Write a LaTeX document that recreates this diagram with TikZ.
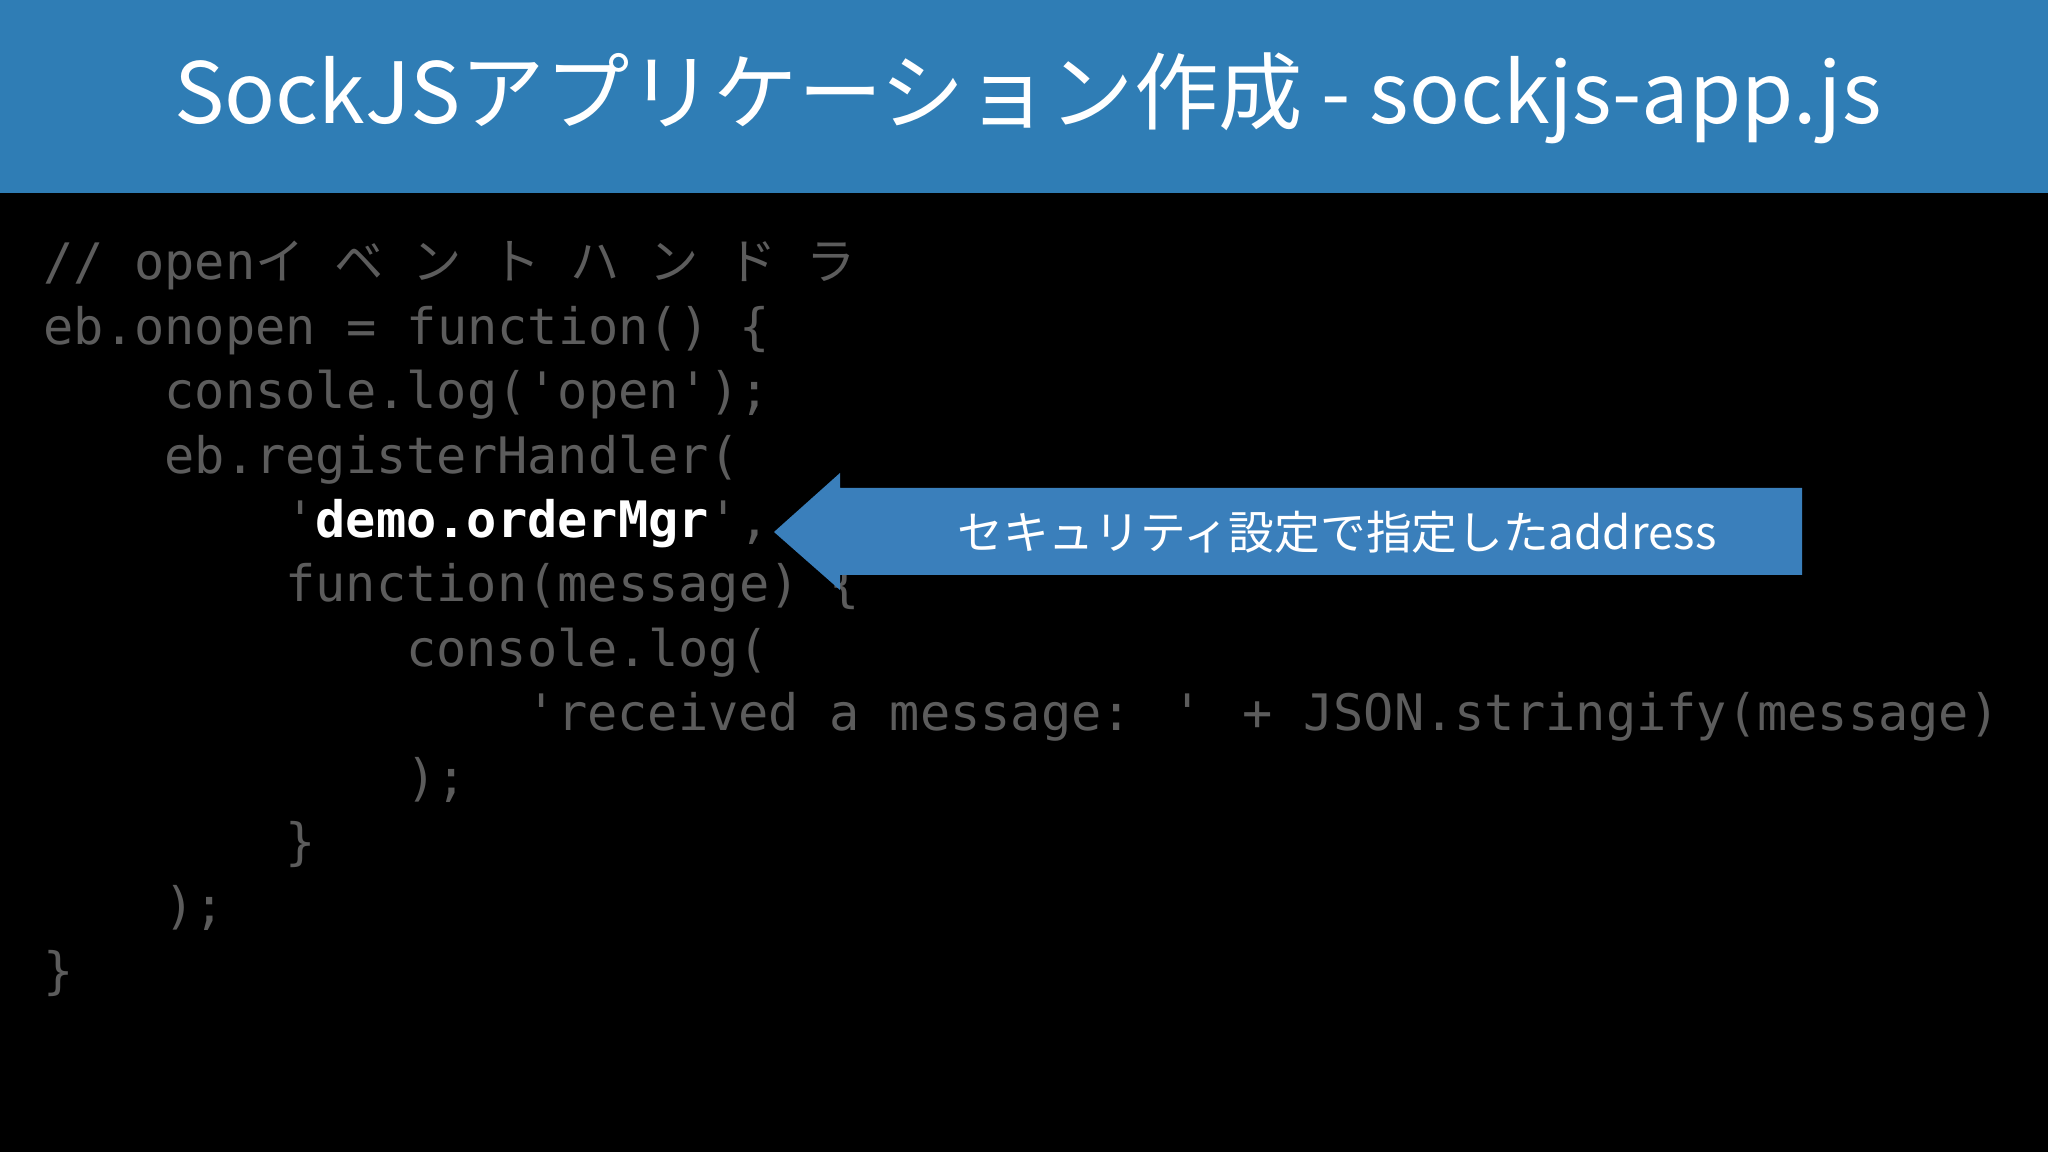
\documentclass[tikz,border=0pt]{standalone}
\usepackage{fontspec}
\newfontfamily\codefont{DejaVu Sans Mono}
\newfontfamily\jp{Noto Sans CJK JP}
\newfontfamily\jpspaced[LetterSpace=60]{Noto Sans CJK JP}
\definecolor{hdr}{HTML}{2F7DB5}
\definecolor{arr}{HTML}{3A7FBB}
\definecolor{codegray}{HTML}{5C5C5C}
\begin{document}
\begin{tikzpicture}[x=1cm,y=1cm,
  code/.style={anchor=base west,inner sep=0pt,text=codegray,font=\codefont\fontsize{14.3pt}{16pt}\selectfont}]
\useasboundingbox (0,0) rectangle (20.48,11.52);
\fill[black] (0,0) rectangle (20.48,11.52);
\fill[hdr] (0,9.59) rectangle (20.48,11.52);
\node[text=white,font=\jp\fontsize{24pt}{28pt}\selectfont] (title) at (10.28,10.54) {SockJSアプリケーション作成 - sockjs-app.js};
\def\dx{0.302}
\def\x0{0.43}
\node[code] (l1) at (0.43,8.72) {// open{\jpspaced\fontsize{14pt}{16pt}\selectfont イベントハンドラ}};
\node[code] (l2) at (0.43,8.076) {eb.onopen = function() \{};
\node[code] (l3) at (0.43+4*\dx,7.432) {console.log('open');};
\node[code] (l4) at (0.43+4*\dx,6.788) {eb.registerHandler(};
\node[code] (l5) at (0.43+8*\dx,6.144) {'\textcolor{white}{\bfseries demo.orderMgr}',};
\node[code] (l6) at (0.43+8*\dx,5.50) {function(message) \{};
\node[code] (l7) at (0.43+12*\dx,4.856) {console.log(};
\node[code] (l8) at (0.43+16*\dx,4.212) {'received a message: ' + JSON.stringify(message)};
\node[code] (l9) at (0.43+12*\dx,3.568) {);};
\node[code] (l10) at (0.43+8*\dx,2.924) {\}};
\node[code] (l11) at (0.43+4*\dx,2.28) {);};
\node[code] (l12) at (0.43,1.636) {\}};
\fill[arr] (7.74,6.20) -- (8.40,6.79) -- (8.40,6.64) -- (18.02,6.64) -- (18.02,5.77) -- (8.40,5.77) -- (8.40,5.62) -- cycle;
\node[text=white,font=\jp\fontsize{13pt}{15pt}\selectfont] (callout) at (13.37,6.20) {セキュリティ設定で指定したaddress};
\end{tikzpicture}
\end{document}
